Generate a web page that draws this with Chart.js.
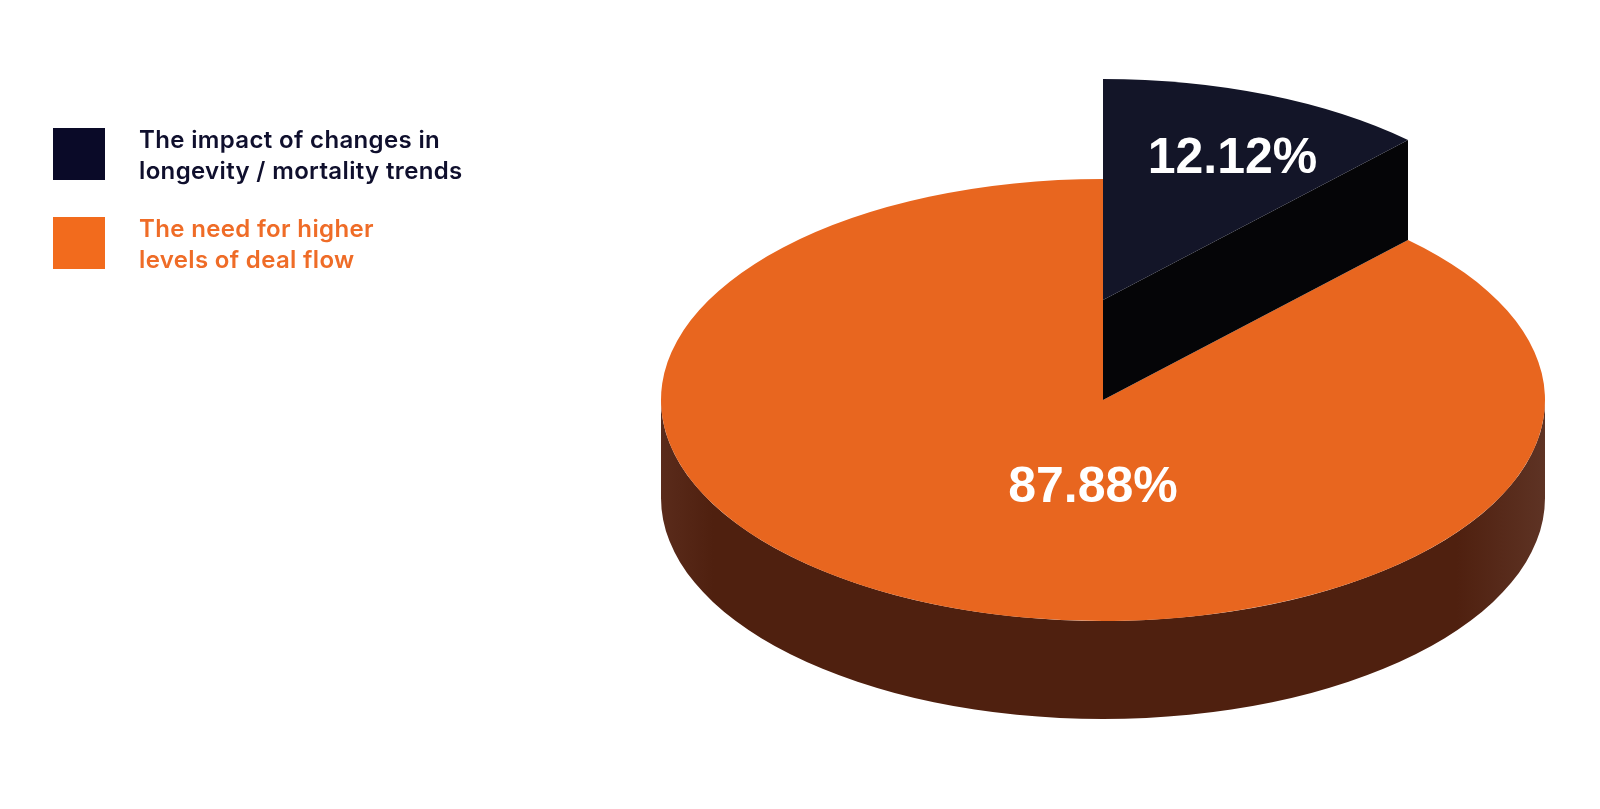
<!DOCTYPE html>
<html>
<head>
<meta charset="utf-8">
<script src="https://cdn.jsdelivr.net/npm/chart.js@4/dist/chart.umd.min.js"></script>
<style>
  html, body { margin: 0; padding: 0; background: #fff; }
  #wrap { position: relative; width: 1600px; height: 809px; overflow: hidden; }
  #pie { position: absolute; left: 0; top: 0; }
  .legend-item { position: absolute; left: 53px; }
  .legend-item .swatch { position: absolute; left: 0; width: 52px; height: 52px; }
  .legend-item .text {
    position: absolute; left: 86px; white-space: nowrap;
    font-family: Inter, "Noto Sans", sans-serif; font-weight: 600;
    font-size: 24px; line-height: 31px; letter-spacing: 0.35px;
  }
</style>
</head>
<body>
<div id="wrap">
  <canvas id="pie" width="1600" height="809"></canvas>
  <div id="legend"></div>
</div>
<script>
// data
const categories = ['The impact of changes in longevity / mortality trends', 'The need for higher levels of deal flow'];
const legendLines = [
    ['The impact of changes in', 'longevity / mortality trends'],
    ['The need for higher', 'levels of deal flow']
];
const shares = [12.12, 87.88];

// colours
const topColors = ['#131528', '#E8661F'];
const sideColors = ['#050507', '#4F200F'];
const legendColors = ['#0A0A28', '#F26B1D'];
const legendTextColors = ['#0F0F2D', '#EF6C27'];

// legend (html so the text stays real text)
const legendTops = [128, 217];
const legendTextOffsets = [-4, -4];
const legendBox = document.getElementById('legend');
legendLines.forEach((lines, i) => {
    const item = document.createElement('div');
    item.className = 'legend-item';
    item.style.top = legendTops[i] + 'px';
    item.innerHTML = `
        <div class="swatch" style="background:${legendColors[i]}"></div>
        <div class="text" style="top:${legendTextOffsets[i]}px; color:${legendTextColors[i]}">${lines.join('<br>')}</div>
    `;
    legendBox.appendChild(item);
});

// put the path cursor into "slice space", shifted dy pixels on screen
function toSlice(ctx, base, arc, cfg, dy) {
    const R = arc.outerRadius;
    ctx.setTransform(base);
    ctx.translate(cfg.cx, cfg.cy + dy);
    ctx.scale(cfg.rx / R, cfg.ry / R);
    ctx.translate(-arc.x, -arc.y);
}

function pt(arc, a) {
    return [arc.x + Math.cos(a) * arc.outerRadius, arc.y + Math.sin(a) * arc.outerRadius];
}

function orangeSide(ctx, arc) {
    const R = arc.outerRadius;
    const g = ctx.createLinearGradient(arc.x - R, 0, arc.x + R, 0);
    g.addColorStop(0, '#5A2B1B');
    g.addColorStop(0.06, '#4F200F');
    g.addColorStop(0.9, '#4F200F');
    g.addColorStop(1, '#5E3324');
    return g;
}

function drawSlab(ctx, base, arc, cfg, top, bottom, sideFill, topFill) {
    const a0 = arc.startAngle, a1 = arc.endAngle;
    ctx.save();

    // front rim (angles 0..PI face the viewer)
    const lo = Math.max(a0, 0), hi = Math.min(a1, Math.PI);
    if (hi > lo) {
        ctx.beginPath();
        toSlice(ctx, base, arc, cfg, top);
        ctx.arc(arc.x, arc.y, arc.outerRadius, lo, hi, false);
        toSlice(ctx, base, arc, cfg, bottom);
        ctx.arc(arc.x, arc.y, arc.outerRadius, hi, lo, true);
        ctx.closePath();
        ctx.fillStyle = typeof sideFill === 'function' ? sideFill(ctx, arc) : sideFill;
        ctx.fill();
    }

    // cut faces along the radii, when they face the viewer
    [[a0, Math.cos(a0) < -1e-6], [a1, Math.cos(a1) > 1e-6]].forEach(([a, visible]) => {
        if (!visible) return;
        const p = pt(arc, a);
        ctx.beginPath();
        toSlice(ctx, base, arc, cfg, top);
        ctx.moveTo(arc.x, arc.y);
        ctx.lineTo(p[0], p[1]);
        toSlice(ctx, base, arc, cfg, bottom);
        ctx.lineTo(p[0], p[1]);
        ctx.lineTo(arc.x, arc.y);
        ctx.closePath();
        ctx.fillStyle = typeof sideFill === 'function' ? '#4F200F' : sideFill;
        ctx.fill();
    });

    // top face
    ctx.beginPath();
    toSlice(ctx, base, arc, cfg, top);
    ctx.moveTo(arc.x, arc.y);
    ctx.arc(arc.x, arc.y, arc.outerRadius, a0, a1);
    ctx.closePath();
    ctx.fillStyle = topFill;
    ctx.fill();
    ctx.restore();
}

const pie3d = {
    id: 'pie3d',
    beforeDatasetsDraw(chart, args, cfg) {
        const ctx = chart.ctx;
        const base = ctx.getTransform();
        const arcs = chart.getDatasetMeta(0).data;
        // lower slices first, lifted slice last
        const order = arcs.map((a, i) => i).sort((a, b) => cfg.lift[a] - cfg.lift[b]);
        order.forEach(i => {
            const top = -cfg.lift[i];
            const bottom = cfg.lift[i] > 0 ? 0 : cfg.depth;
            const side = i === 1 ? orangeSide : sideColors[i];
            drawSlab(ctx, base, arcs[i], cfg, top, bottom, side, topColors[i]);
        });

        // percentage labels
        ctx.save();
        ctx.setTransform(base);
        ctx.fillStyle = '#FFFFFF';
        ctx.font = 'bold 50px "Liberation Sans", Arial, sans-serif';
        ctx.textAlign = 'center';
        ctx.textBaseline = 'alphabetic';
        arcs.forEach((arc, i) => {
            const [deg, frac] = cfg.labelAt[i];
            const a = deg * Math.PI / 180;
            const x = cfg.cx + Math.cos(a) * frac * cfg.rx;
            const y = cfg.cy - cfg.lift[i] + Math.sin(a) * frac * cfg.ry;
            ctx.fillText(shares[i].toFixed(2) + '%', x, y + 18);
        });
        ctx.restore();
        return false;
    }
};

new Chart(document.getElementById('pie'), {
    type: 'pie',
    data: {
        labels: categories,
        datasets: [{
            data: shares,
            backgroundColor: topColors,
            borderWidth: 0
        }]
    },
    options: {
        responsive: false,
        animation: false,
        events: [],
        plugins: {
            legend: { display: false },
            tooltip: { enabled: false },
            pie3d: {
                cx: 1103,
                cy: 400,
                rx: 442,
                ry: 221,
                depth: 98,
                lift: [100, 0],
                labelAt: [[-66, 0.72], [93.4, 0.381]]
            }
        }
    },
    plugins: [pie3d]
});
</script>
</body>
</html>
